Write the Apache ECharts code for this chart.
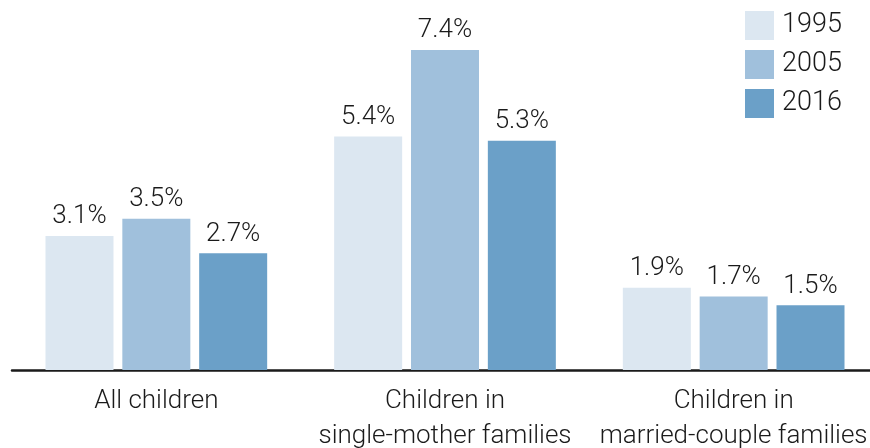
<!DOCTYPE html>
<html>
<head>
<meta charset="utf-8">
<script src="https://cdn.jsdelivr.net/npm/echarts@6/dist/echarts.min.js"></script>
<style>
  html, body { margin: 0; padding: 0; background: #fff; }
  #chart { width: 870px; height: 448px; }
</style>
</head>
<body>
<div id="chart"></div>
<script>
// Share of children by family type, three survey years (percent)
const categories = ['All children', 'Children in\nsingle-mother families', 'Children in\nmarried-couple families'];
const years = ['1995', '2005', '2016'];
const values1995 = [3.1, 5.4, 1.9];
const values2005 = [3.5, 7.4, 1.7];
const values2016 = [2.7, 5.3, 1.5];
const colors = ['#dce7f1', '#a0c0dc', '#6ba0c8'];

const FONT = 'Roboto, "Noto Sans", sans-serif';
const seriesValues = [values1995, values2005, values2016];

const chart = echarts.init(document.getElementById('chart'));
chart.setOption({
  animation: false,
  textStyle: { fontFamily: FONT },
  legend: {
    orient: 'vertical',
    left: 745,
    top: 11,
    padding: 0,
    itemWidth: 29,
    itemHeight: 29,
    itemGap: 10,
    icon: 'rect',
    textStyle: { fontFamily: FONT, fontWeight: 300, fontSize: 27, color: '#1a1a1a', padding: [3, 0, 0, 3] },
    data: years
  },
  grid: { left: 12, width: 866, top: 24, bottom: 78, containLabel: false, outerBoundsMode: 'none' },
  xAxis: {
    type: 'category',
    data: categories,
    axisLine: { show: true, lineStyle: { color: '#1a1a1a', width: 2.5 } },
    axisTick: { show: false },
    axisLabel: {
      fontFamily: FONT,
      fontWeight: 300,
      fontSize: 26,
      lineHeight: 35,
      color: '#1a1a1a',
      margin: 14,
      interval: 0
    }
  },
  yAxis: {
    type: 'value',
    min: 0,
    max: 8,
    show: false,
    splitLine: { show: false }
  },
  series: years.map((y, i) => ({
    name: y,
    type: 'bar',
    data: seriesValues[i],
    barWidth: 68,
    barGap: '13%',
    itemStyle: { color: colors[i] },
    label: {
      show: true,
      position: 'top',
      distance: 6,
      formatter: p => p.value.toFixed(1) + '%',
      fontFamily: FONT,
      fontWeight: 300,
      fontSize: 26,
      color: '#1a1a1a'
    }
  }))
});
</script>
</body>
</html>
